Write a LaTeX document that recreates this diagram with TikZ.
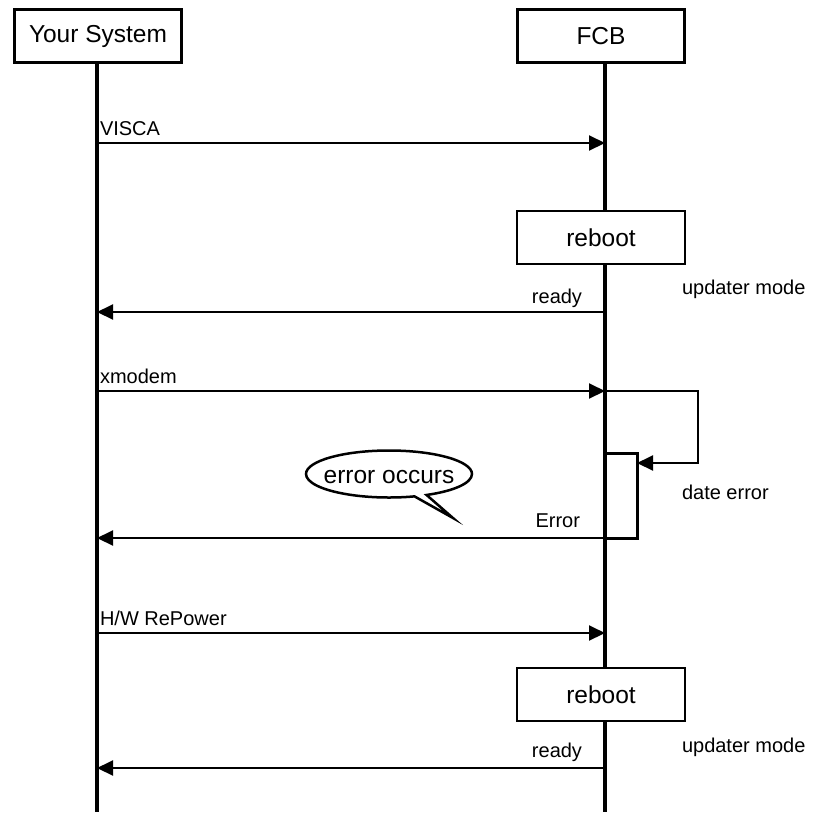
\documentclass[tikz,border=0pt]{standalone}
\usepackage{fontspec}
\setmainfont{Liberation Sans}
\usetikzlibrary{arrows.meta,shapes.callouts}
\begin{document}
\begin{tikzpicture}[x=1pt,y=-1pt,
  hdr/.style={draw,line width=3pt,fill=white,minimum width=167pt,minimum height=53pt,inner sep=0pt,outer sep=0pt,font=\fontsize{24.5}{28}\selectfont},
  proc/.style={draw,line width=2pt,fill=white,minimum width=168pt,minimum height=53pt,inner sep=0pt,outer sep=0pt,font=\fontsize{24.5}{28}\selectfont},
  life/.style={line width=3.2pt},
  msg/.style={line width=2pt,-{Triangle[length=16pt,width=15pt]}},
  lbl/.style={font=\fontsize{20}{24}\selectfont,inner sep=0pt,outer sep=0pt},
  actbox/.style={draw,line width=3pt,fill=white,inner sep=0pt,outer sep=0pt,minimum width=32pt,minimum height=85pt},
  bubble/.style={ellipse callout,draw,line width=2.5pt,fill=white,inner sep=0pt,minimum width=166pt,minimum height=47pt,callout pointer arc=9,font=\fontsize{24.5}{28}\selectfont}
]
\useasboundingbox (0,0) rectangle (821,812);

% headers
\node[hdr] (ys) at (98,36) {Your System};
\node[hdr] (fcb) at (601,36) {FCB};

% lifeline ends
\coordinate (ysend) at (97,812);
\coordinate (fcbend) at (605,812);
\draw[life] (ys.south -| ysend) -- (ysend);
\draw[life] (fcb.south -| fcbend) -- (fcbend);

% message end points
\coordinate (visL) at (97,143);  \coordinate (visR) at (605,143);
\coordinate (rd1L) at (97,312);  \coordinate (rd1R) at (605,312);
\coordinate (xmL) at (97,391);   \coordinate (xmR) at (605,391);
\coordinate (erL) at (97,538);   \coordinate (erR) at (605,538);
\coordinate (hwL) at (97,633);   \coordinate (hwR) at (605,633);
\coordinate (rd2L) at (97,768);  \coordinate (rd2R) at (605,768);
\coordinate (loopEnd) at (637,463);

% reboot boxes
\node[proc] (rb1) at (601,237.5) {reboot};
\node[proc] (rb2) at (601,694.5) {reboot};

% activation box
\node[actbox,anchor=north west] (act) at (605,453) {};

% messages
\draw[msg] (visL) -- (visR);
\draw[msg] (rd1R) -- (rd1L);
\draw[msg] (xmL) -- (xmR);
\draw[msg] (xmR) -- ++(93,0) |- (loopEnd);
\draw[msg] (erR) -- (erL);
\draw[msg] (hwL) -- (hwR);
\draw[msg] (rd2R) -- (rd2L);

% labels
\node[lbl,anchor=base west] (lvis) at (100,135) {VISCA};
\node[lbl,anchor=base east] (lrd1) at (582,303) {ready};
\node[lbl,anchor=base west] (lup1) at (682,294) {updater mode};
\node[lbl,anchor=base west] (lxm) at (100,383) {xmodem};
\node[lbl,anchor=base west] (lde) at (682,499) {date error};
\node[lbl,anchor=base east] (ler) at (580,527) {Error};
\node[lbl,anchor=base west] (lhw) at (100,625) {H/W RePower};
\node[lbl,anchor=base east] (lrd2) at (582,757) {ready};
\node[lbl,anchor=base west] (lup2) at (682,752) {updater mode};

% bubble
\node[bubble,callout absolute pointer={(453,518)}] (bub) at (389,474) {\makebox[0pt]{\smash{\raisebox{-9pt}{error occurs}}}};
\end{tikzpicture}
\end{document}
